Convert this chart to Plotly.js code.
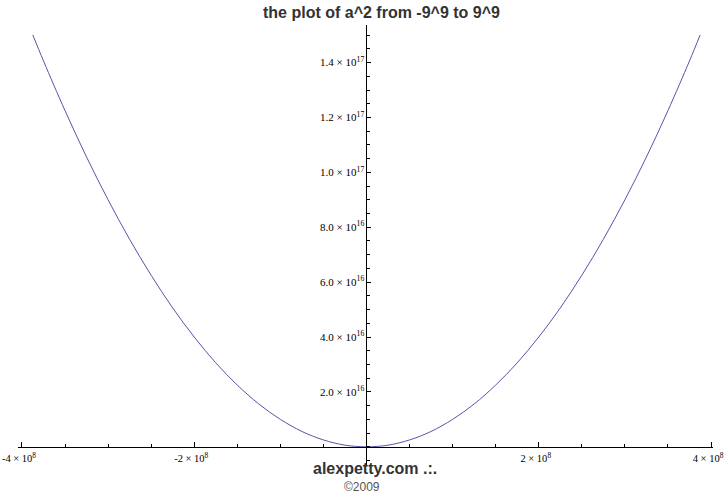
<!DOCTYPE html>
<html>
<head>
<meta charset="utf-8">
<script src="https://cdn.plot.ly/plotly-3.0.1.min.js"></script>
<style>html,body{margin:0;padding:0;background:#fff;}#chart{width:726px;height:498px;}</style>
</head>
<body>
<div id="chart"></div>
<script>
// values (a, a^2)
var aValues = [-3.874e8, -3.75e8, -3.5e8, -3.25e8, -3.0e8, -2.75e8, -2.5e8, -2.25e8, -2.0e8,
               -1.75e8, -1.5e8, -1.25e8, -1.0e8, -0.75e8, -0.5e8, -0.25e8, 0,
               0.25e8, 0.5e8, 0.75e8, 1.0e8, 1.25e8, 1.5e8, 1.75e8, 2.0e8,
               2.25e8, 2.5e8, 2.75e8, 3.0e8, 3.25e8, 3.5e8, 3.75e8, 3.874e8];
var squareValues = [1.501e17, 1.406e17, 1.225e17, 1.056e17, 9.0e16, 7.56e16, 6.25e16, 5.06e16, 4.0e16,
                    3.06e16, 2.25e16, 1.56e16, 1.0e16, 0.56e16, 0.25e16, 0.06e16, 0,
                    0.06e16, 0.25e16, 0.56e16, 1.0e16, 1.56e16, 2.25e16, 3.06e16, 4.0e16,
                    5.06e16, 6.25e16, 7.56e16, 9.0e16, 1.056e17, 1.225e17, 1.406e17, 1.501e17];
var xTickVals = [-4e8, -2e8, 2e8, 4e8];
var xTickText = ['-4 × 10<sup>8</sup>', '-2 × 10<sup>8</sup>', '2 × 10<sup>8</sup>', '4 × 10<sup>8</sup>'];
var yTickVals = [2e16, 4e16, 6e16, 8e16, 1e17, 1.2e17, 1.4e17];
var yTickText = ['2.0 × 10<sup>16</sup>', '4.0 × 10<sup>16</sup>', '6.0 × 10<sup>16</sup>', '8.0 × 10<sup>16</sup>',
                 '1.0 × 10<sup>17</sup>', '1.2 × 10<sup>17</sup>', '1.4 × 10<sup>17</sup>'];
var titleText = 'the plot of a^2 from -9^9 to 9^9';
var footerText = 'alexpetty.com .:.';
var copyrightText = '©2009';

var trace = {
  x: aValues, y: squareValues, type: 'scatter', mode: 'lines',
  line: {color: '#5555aa', width: 1, shape: 'spline', smoothing: 1},
  hoverinfo: 'skip'
};

var tickFont = {family: 'Liberation Serif, Times New Roman, serif', size: 11, color: '#000'};

var layout = {
  width: 726, height: 498,
  margin: {l: 18, r: 13, t: 25, b: 33, pad: 0},
  paper_bgcolor: '#fff', plot_bgcolor: '#fff',
  showlegend: false,
  title: {text: titleText, font: {family: 'Liberation Sans, Arial, sans-serif', size: 16, color: '#333', weight: 'bold'},
          x: 0.523, xanchor: 'center', y: 0.975, yanchor: 'middle', xref: 'paper', yref: 'container'},
  xaxis: {
    range: [-4.046e8, 4.023e8], anchor: 'free', position: 0.0414,
    showgrid: false, zeroline: false, showline: true, linecolor: '#000', linewidth: 1,
    tickmode: 'array', tickvals: xTickVals, ticktext: xTickText,
    tickfont: {family: 'Liberation Serif, Times New Roman, serif', size: 10.5, color: '#000'},
    ticklabeloverflow: 'allow', ticklabelshift: -3, ticklabelstandoff: 2,
    ticks: 'inside', ticklen: 5, tickcolor: '#000', tickwidth: 1,
    minor: {dtick: 0.5e8, tick0: 0, ticks: 'inside', ticklen: 3, tickcolor: '#000', showgrid: false}
  },
  yaxis: {
    range: [-0.663e16, 1.537e17], anchor: 'free', position: 0.5014,
    showgrid: false, zeroline: false, showline: true, linecolor: '#000', linewidth: 1,
    tickmode: 'array', tickvals: yTickVals, ticktext: yTickText, tickfont: tickFont,
    ticklabeloverflow: 'allow',
    ticks: 'inside', ticklen: 4, tickcolor: '#000', tickwidth: 1,
    minor: {dtick: 0.5e16, tick0: 0, ticks: 'inside', ticklen: 2.5, tickcolor: '#000', showgrid: false}
  },
  annotations: [
    {text: footerText, xref: 'paper', yref: 'paper', x: 0.514, y: -0.008, xanchor: 'center', yanchor: 'middle',
     showarrow: false, font: {family: 'Liberation Sans, Arial, sans-serif', size: 16, color: '#333', weight: 'bold'}},
    {text: copyrightText, xref: 'paper', yref: 'paper', x: 0.495, y: -0.05, xanchor: 'center', yanchor: 'middle',
     showarrow: false, font: {family: 'Liberation Sans, Arial, sans-serif', size: 12, color: '#555'}}
  ]
};

Plotly.newPlot('chart', [trace], layout, {staticPlot: true, displayModeBar: false});
</script>
</body>
</html>
